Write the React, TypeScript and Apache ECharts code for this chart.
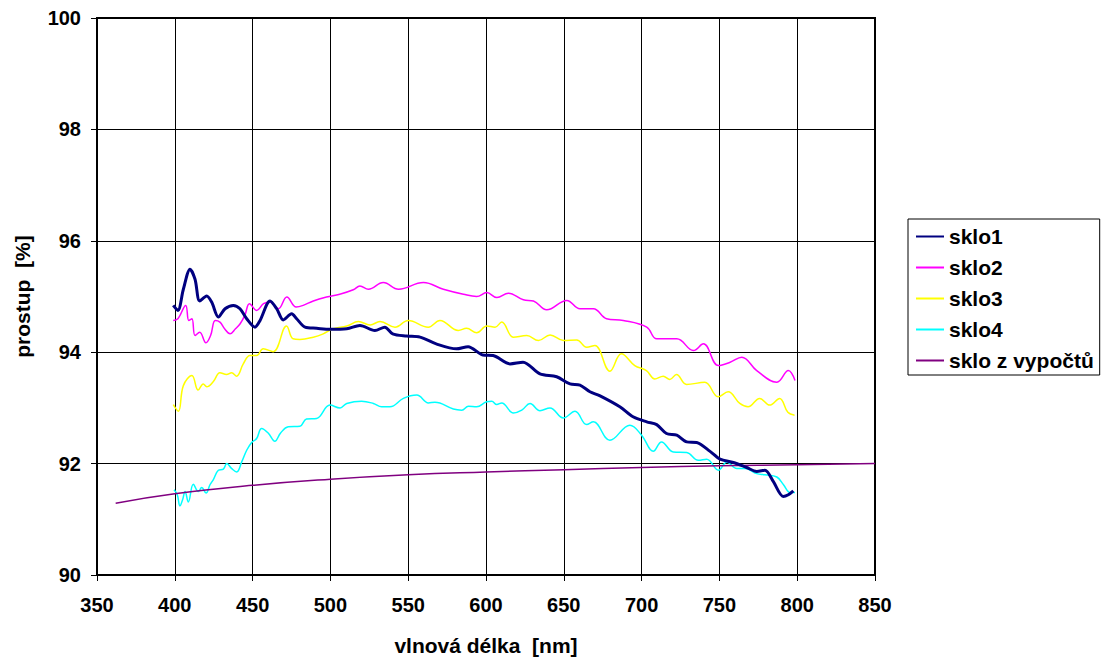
import React, { useEffect, useRef } from "react";
import * as echarts from "echarts";

// ---- data ----
const xTicks = [350, 400, 450, 500, 550, 600, 650, 700, 750, 800, 850];

const sklo1X = [399, 402, 405.5, 409.8, 413, 416, 420.5, 423.7, 428, 432.3, 437.6, 441.9, 446.2, 451.5, 454.8, 461.2, 465.5, 469.7, 475.1, 478.3, 483.7, 491.2, 499.7, 510.5, 519, 528.6, 535, 540, 549, 557.6, 568, 581, 588.5, 598, 604.6, 615.4, 623.8, 634.7, 645.4, 654, 660.4, 666.8, 673, 686, 694.5, 703.3, 709.7, 716, 722.6, 729, 735.4, 744, 750.4, 759, 767.5, 774, 779.3, 784.6, 791, 794.3, 797.5];
const sklo1Y = [94.84, 94.75, 95.13, 95.49, 95.31, 94.92, 95.01, 94.9, 94.63, 94.78, 94.84, 94.78, 94.6, 94.45, 94.57, 94.92, 94.78, 94.58, 94.69, 94.6, 94.45, 94.43, 94.41, 94.42, 94.48, 94.39, 94.45, 94.33, 94.29, 94.27, 94.15, 94.06, 94.1, 93.95, 93.94, 93.79, 93.82, 93.61, 93.56, 93.43, 93.41, 93.29, 93.22, 93.02, 92.84, 92.75, 92.7, 92.54, 92.51, 92.39, 92.38, 92.22, 92.08, 92.02, 91.93, 91.86, 91.88, 91.68, 91.41, 91.44, 91.51];

const sklo2X = [399, 402, 407, 409, 411, 413, 416, 420, 423, 426, 429, 432, 435.5, 439, 442, 445, 448, 452.6, 457, 461, 466.5, 472, 478, 482.5, 489, 497.5, 506, 514.7, 519, 524.4, 534, 543.8, 559.8, 572.6, 585.5, 594, 600.5, 607, 614.4, 624, 630.5, 639, 651.9, 660.4, 669, 677.5, 688.2, 703.3, 709.7, 722.6, 733.3, 739.7, 749.4, 756.9, 764.4, 774, 786.9, 794.3, 798.6];
const sklo2Y = [94.57, 94.6, 94.84, 94.57, 94.6, 94.3, 94.36, 94.17, 94.3, 94.57, 94.54, 94.42, 94.33, 94.42, 94.51, 94.66, 94.87, 94.75, 94.87, 94.9, 94.78, 94.99, 94.81, 94.84, 94.92, 94.99, 95.04, 95.12, 95.19, 95.13, 95.25, 95.13, 95.25, 95.13, 95.04, 95.0, 95.07, 94.98, 95.06, 94.94, 94.92, 94.76, 94.93, 94.78, 94.78, 94.6, 94.57, 94.45, 94.24, 94.24, 94.03, 94.15, 93.76, 93.82, 93.91, 93.67, 93.46, 93.67, 93.49];

const sklo3X = [399, 402.3, 405.5, 411, 415, 418.3, 420.5, 424.7, 429, 433.3, 436.5, 439.7, 444, 448.3, 452.6, 456.8, 463.2, 471.8, 476, 480.4, 489, 495.4, 501.8, 510.5, 518, 525.5, 531.9, 541.5, 550, 562.9, 570.4, 582.2, 587.5, 594, 600.5, 605.8, 610.1, 617.6, 626.2, 633.7, 641.2, 649.8, 658.3, 664.7, 670, 679.6, 687, 695.6, 703.1, 708.5, 713.9, 718.1, 722.4, 728.9, 740.6, 749.2, 755.6, 763.1, 768.4, 775.9, 782.3, 788.7, 794, 798.3];
const sklo3Y = [93.06, 92.94, 93.4, 93.58, 93.32, 93.43, 93.38, 93.47, 93.63, 93.6, 93.63, 93.57, 93.79, 93.94, 93.94, 94.06, 94.01, 94.47, 94.24, 94.23, 94.27, 94.33, 94.42, 94.47, 94.55, 94.49, 94.55, 94.45, 94.57, 94.45, 94.57, 94.39, 94.43, 94.35, 94.47, 94.45, 94.54, 94.27, 94.3, 94.21, 94.31, 94.21, 94.22, 94.09, 94.12, 93.66, 93.97, 93.76, 93.67, 93.52, 93.57, 93.51, 93.6, 93.42, 93.46, 93.2, 93.29, 93.08, 93.02, 93.17, 93.05, 93.17, 92.92, 92.87];

const sklo4X = [399.5, 401.6, 403.3, 405, 406.6, 408.7, 411.9, 415.1, 417.3, 420.1, 422.6, 424.7, 428, 431.2, 433.4, 436.6, 439.8, 443, 446.2, 449.4, 452.6, 455.8, 460, 464.3, 468, 472.9, 480.4, 484.6, 491.1, 499.7, 506.2, 510.5, 520, 527.6, 532.9, 538.3, 546.9, 555.5, 563, 567.2, 579, 584.4, 588.7, 594, 600.4, 603.7, 606.9, 610.1, 617.6, 623, 628.3, 634.7, 641.1, 649.7, 657.2, 664.7, 669, 679.6, 692.5, 700, 707.5, 712.8, 720.4, 729, 736.4, 741.8, 749.4, 754.8, 761.2, 766.5, 774, 779.3, 786.9, 791.2, 795.5, 798.6];
const sklo4Y = [91.53, 91.44, 91.24, 91.35, 91.5, 91.31, 91.63, 91.5, 91.57, 91.47, 91.62, 91.71, 91.88, 91.9, 92.0, 91.91, 91.85, 92.03, 92.24, 92.38, 92.45, 92.63, 92.55, 92.4, 92.55, 92.66, 92.67, 92.8, 92.81, 93.05, 93.0, 93.08, 93.12, 93.08, 93.02, 93.02, 93.17, 93.23, 93.09, 93.1, 92.98, 92.96, 93.03, 93.02, 93.11, 93.12, 93.06, 93.09, 92.91, 92.96, 93.08, 92.95, 93.0, 92.82, 92.94, 92.7, 92.75, 92.42, 92.69, 92.51, 92.22, 92.39, 92.21, 92.2, 92.06, 92.08, 91.88, 92.03, 91.91, 91.91, 91.82, 91.8, 91.76, 91.62, 91.48, 91.48];

const vypocetX = [362, 400, 450, 500, 550, 600, 650, 700, 750, 800, 850];
const vypocetY = [91.29, 91.46, 91.61, 91.72, 91.8, 91.85, 91.89, 91.93, 91.96, 91.98, 92.0];

const seriesNames = ["sklo1", "sklo2", "sklo3", "sklo4", "sklo z vypočtů"];

const zip = (xs: number[], ys: number[]) => xs.map((x, i) => [x, ys[i]]);

const FONT = "'Liberation Sans', Arial, sans-serif";

export default function App() {
  const ref = useRef<HTMLDivElement>(null);
  useEffect(() => {
    document.body.style.margin = "0";
    const chart = echarts.init(ref.current!, undefined, { renderer: "svg" });
    const mk = (name: string, xs: number[], ys: number[], color: string, width: number, z: number, smooth: number) => ({
      name,
      type: "line",
      data: zip(xs, ys),
      showSymbol: false,
      symbol: "none",
      smooth,
      z,
      lineStyle: { color, width },
      itemStyle: { color },
    });
    chart.setOption({
      animation: false,
      backgroundColor: "#ffffff",
      textStyle: { fontFamily: FONT },
      grid: {
        left: 97,
        right: 234,
        top: 18,
        bottom: 84,
        show: true,
        borderColor: "#000",
        borderWidth: 2,
        backgroundColor: "#fff",
      },
      legend: {
        orient: "vertical",
        left: 908,
        top: 219,
        padding: [7, 6, 4, 7],
        itemGap: 10,
        itemWidth: 28,
        itemHeight: 14,
        borderColor: "#000",
        borderWidth: 1,
        backgroundColor: "#fff",
        itemStyle: { opacity: 0, borderWidth: 0 },
        textStyle: { fontFamily: FONT, fontSize: 21, fontWeight: "bold", color: "#000", lineHeight: 20 },
        data: seriesNames,
      },
      xAxis: {
        type: "value",
        min: 350,
        max: 850,
        interval: 50,
        name: "vlnová délka  [nm]",
        nameLocation: "middle",
        nameGap: 60,
        nameTextStyle: { fontFamily: FONT, fontSize: 21, fontWeight: "bold", color: "#000" },
        axisLine: { show: true, lineStyle: { color: "#000", width: 2 } },
        axisTick: { show: true, length: 6, lineStyle: { color: "#000", width: 1 } },
        axisLabel: { margin: 20, fontFamily: FONT, fontSize: 20, fontWeight: "bold", color: "#000", customValues: xTicks },
        splitLine: { show: true, lineStyle: { color: "#000", width: 1 } },
      },
      yAxis: {
        type: "value",
        min: 90,
        max: 100,
        interval: 2,
        name: "prostup  [%]",
        nameLocation: "middle",
        nameGap: 64,
        nameTextStyle: { fontFamily: FONT, fontSize: 21, fontWeight: "bold", color: "#000" },
        axisLine: { show: true, lineStyle: { color: "#000", width: 2 } },
        axisTick: { show: true, length: 6, lineStyle: { color: "#000", width: 1 } },
        axisLabel: { margin: 16, fontFamily: FONT, fontSize: 20, fontWeight: "bold", color: "#000" },
        splitLine: { show: true, lineStyle: { color: "#000", width: 1 } },
      },
      series: [
        mk(seriesNames[0], sklo1X, sklo1Y, "#000080", 3, 5, 0.3),
        mk(seriesNames[1], sklo2X, sklo2Y, "#FF00FF", 1.5, 3, 0.4),
        mk(seriesNames[2], sklo3X, sklo3Y, "#FFFF00", 1.5, 3, 0.4),
        mk(seriesNames[3], sklo4X, sklo4Y, "#00FFFF", 1.5, 3, 0.4),
        mk(seriesNames[4], vypocetX, vypocetY, "#800080", 1.5, 4, 0.5),
      ],
    });
    return () => chart.dispose();
  }, []);
  return <div ref={ref} style={{ width: 1109, height: 661 }} />;
}
